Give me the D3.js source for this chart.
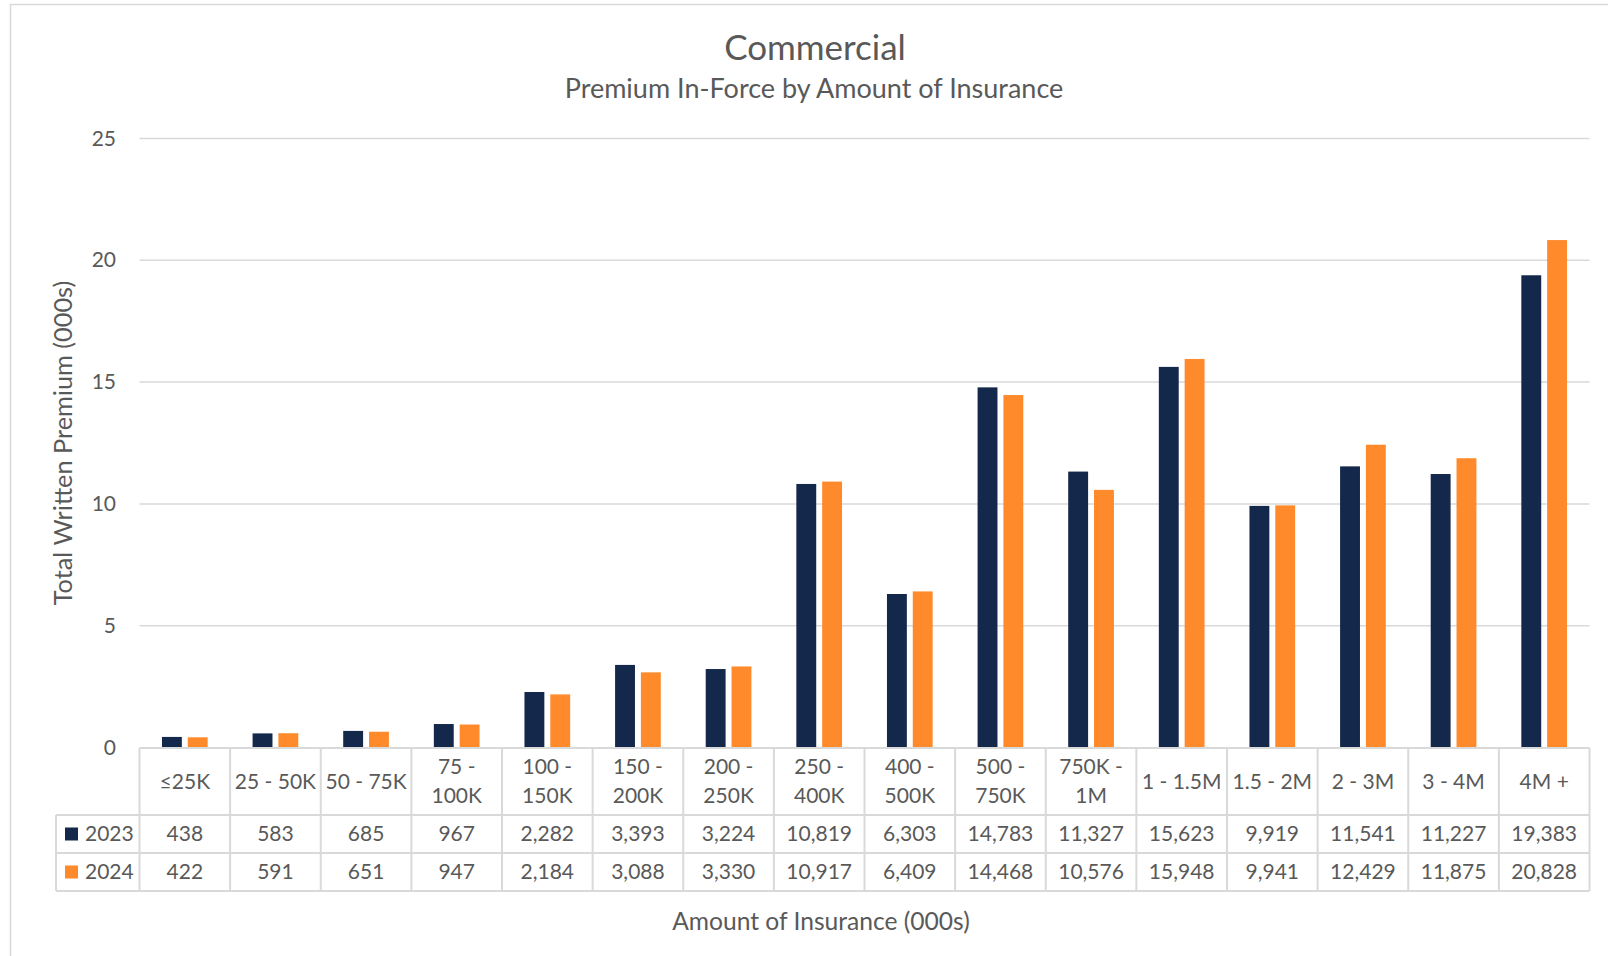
<!DOCTYPE html>
<html><head><meta charset="utf-8">
<script src="https://cdn.jsdelivr.net/npm/d3@7"></script>
<style>
html,body{margin:0;padding:0;background:#fff;}
text{font-family:Lato, "Open Sans", sans-serif;fill:#595959;}
</style></head>
<body><svg id="c" width="1608" height="956"></svg>
<script>
const categories = ["≤25K","25 - 50K","50 - 75K","75 - 100K","100 - 150K","150 - 200K","200 - 250K","250 - 400K","400 - 500K","500 - 750K","750K - 1M","1 - 1.5M","1.5 - 2M","2 - 3M","3 - 4M","4M +"];
const headerLines = [["≤25K"],["25 - 50K"],["50 - 75K"],["75 -","100K"],["100 -","150K"],["150 -","200K"],["200 -","250K"],["250 -","400K"],["400 -","500K"],["500 -","750K"],["750K -","1M"],["1 - 1.5M"],["1.5 - 2M"],["2 - 3M"],["3 - 4M"],["4M +"]];
const seriesNames = ["2023","2024"];
const values2023 = [438,583,685,967,2282,3393,3224,10819,6303,14783,11327,15623,9919,11541,11227,19383];
const values2024 = [422,591,651,947,2184,3088,3330,10917,6409,14468,10576,15948,9941,12429,11875,20828];
const yTicks = [0,5,10,15,20,25];
const colors = ["#14284B","#FF8A2B"];

const svg = d3.select("#c");
const L = 139.5, R = 1589.5, T = 138.4, B = 747.6;
const grid = "#D9D9D9";

svg.append("rect").attr("x",10.5).attr("y",4.5).attr("width",1640).attr("height",1000)
  .attr("fill","none").attr("stroke",grid).attr("stroke-width",1.5);

const x = d3.scaleBand().domain(categories).range([L,R]).paddingInner(0).paddingOuter(0);
const xs = d3.scaleBand().domain(seriesNames).range([0,x.bandwidth()]).paddingInner(0.23).paddingOuter(0.87);
const y = d3.scaleLinear().domain([0,25]).range([B,T]);

// gridlines
svg.append("g").selectAll("line").data(yTicks.filter(d=>d>0)).join("line")
  .attr("x1",L).attr("x2",R).attr("y1",d=>y(d)).attr("y2",d=>y(d))
  .attr("stroke",grid).attr("stroke-width",1.5);

// y axis labels
const yAxis = d3.axisLeft(y).tickValues(yTicks).tickSize(0).tickPadding(0);
const ya = svg.append("g").attr("transform",`translate(${116},0)`).call(yAxis);
ya.select(".domain").remove();
ya.selectAll("text").attr("font-size",21).attr("fill","#595959").style("font-family","Lato");

// bars
const series = [values2023, values2024];
const g = svg.append("g");
series.forEach((vals,si)=>{
  g.selectAll(null).data(vals).join("rect")
   .attr("x",(d,i)=>x(categories[i])+xs(seriesNames[si]))
   .attr("width",xs.bandwidth())
   .attr("y",d=>y(d/1000))
   .attr("height",d=>B-y(d/1000))
   .attr("fill",colors[si]);
});

// data table
const rowTop = [748, 815, 853, 891];
const tg = svg.append("g");
tg.append("line").attr("x1",L).attr("x2",R).attr("y1",rowTop[0]).attr("y2",rowTop[0]).attr("stroke",grid).attr("stroke-width",2);
[1,2,3].forEach(k=>{
  tg.append("line").attr("x1",56).attr("x2",R).attr("y1",rowTop[k]).attr("y2",rowTop[k]).attr("stroke",grid).attr("stroke-width",2);
});
const edges = categories.map(c=>x(c)).concat([R]);
tg.selectAll(null).data(edges).join("line")
  .attr("x1",d=>d).attr("x2",d=>d).attr("y1",rowTop[0]).attr("y2",rowTop[3])
  .attr("stroke",grid).attr("stroke-width",2);
tg.append("line").attr("x1",56).attr("x2",56).attr("y1",rowTop[1]).attr("y2",rowTop[3]).attr("stroke",grid).attr("stroke-width",2);

const hdr = tg.selectAll(null).data(headerLines).join("text")
  .attr("text-anchor","middle").attr("font-size",21)
  .attr("transform",(d,i)=>`translate(${x(categories[i])+x.bandwidth()/2},${(rowTop[0]+rowTop[1])/2})`);
hdr.each(function(lines){
  const t = d3.select(this);
  const n = lines.length;
  lines.forEach((ln,j)=>{
    t.append("tspan").attr("x",0).attr("y",(j-(n-1)/2)*29).attr("dy","0.35em").text(ln);
  });
});
const fmt = d3.format(",");
series.forEach((vals,si)=>{
  const cy = (rowTop[si+1]+rowTop[si+2])/2;
  tg.selectAll(null).data(vals).join("text")
    .attr("x",(d,i)=>x(categories[i])+x.bandwidth()/2).attr("y",cy).attr("dy","0.35em")
    .attr("text-anchor","middle").attr("font-size",21).text(d=>fmt(d));
  tg.append("rect").attr("x",65).attr("y",cy-6.5).attr("width",13).attr("height",13).attr("fill",colors[si]);
  tg.append("text").attr("x",85).attr("y",cy).attr("dy","0.35em").attr("font-size",21).text(seriesNames[si]);
});

// titles
svg.append("text").attr("x",815).attr("y",48).attr("dy","0.35em").attr("text-anchor","middle").attr("font-size",35).text("Commercial");
svg.append("text").attr("x",814).attr("y",89).attr("dy","0.35em").attr("text-anchor","middle").attr("font-size",27).text("Premium In-Force by Amount of Insurance");
svg.append("text").attr("transform","translate(63.5,443) rotate(-90)").attr("dy","0.35em").attr("text-anchor","middle").attr("font-size",25.3).text("Total Written Premium (000s)");
svg.append("text").attr("x",821).attr("y",921).attr("dy","0.35em").attr("text-anchor","middle").attr("font-size",24.6).text("Amount of Insurance (000s)");
</script></body></html>
